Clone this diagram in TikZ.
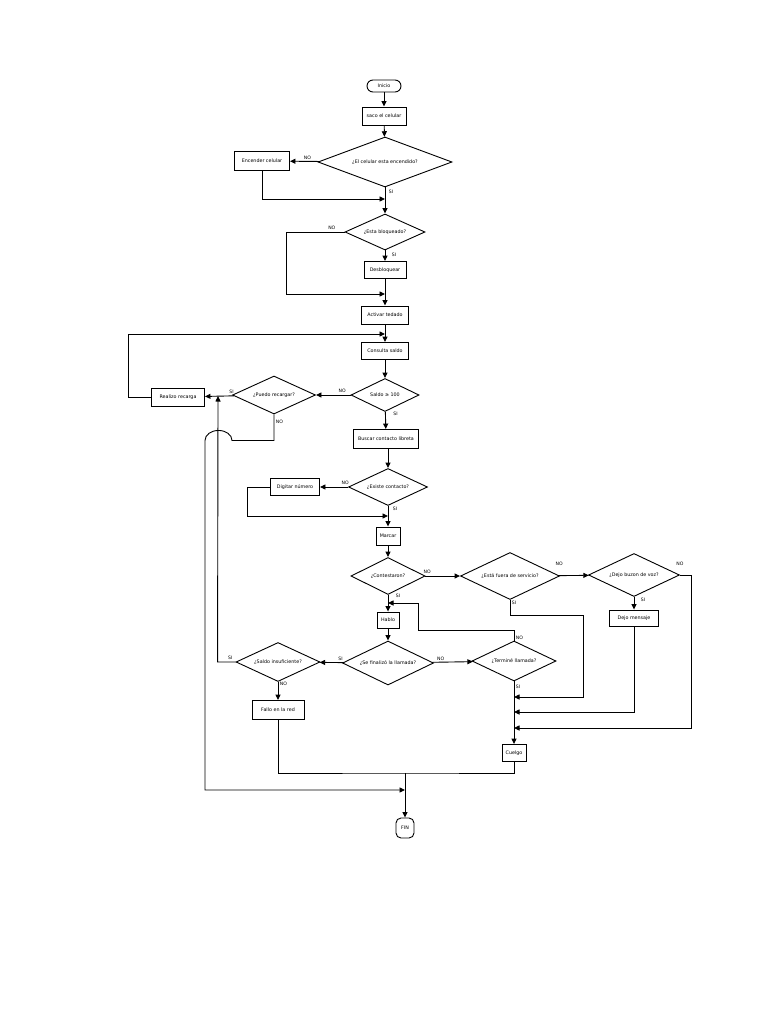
\documentclass[tikz,border=0pt]{standalone}
\usepackage{fontspec}
\setmainfont{DejaVu Sans}
\usetikzlibrary{arrows.meta,shapes.geometric,positioning}

\begin{document}
\begin{tikzpicture}[x=1pt,y=-1pt,line width=0.9pt,font=\fontsize{4.8}{5.5}\selectfont,>={Triangle[length=5.5pt,width=5pt]},
  proc/.style={draw,rectangle,inner sep=0pt,minimum height=18pt},
  term/.style={draw,rounded corners=6pt,inner sep=0pt},
  dec/.style={draw,diamond,inner sep=0pt,aspect=2},
  lbl/.style={font=\fontsize{4.6}{5}\selectfont,inner sep=1.5pt}]
\useasboundingbox (0,0) rectangle (768,1024);
% nodes
\node[term,minimum width=34pt,minimum height=12pt] (ini) at (384,86) {Inicio};
\node[proc,minimum width=44pt] (saco) at (384,116) {saco el celular};
\node[dec,minimum width=134pt,minimum height=50pt] (enc) at (385,162) {¿El celular esta encendido?};
\node[proc,minimum width=55pt,minimum height=19pt] (encc) at (262,161) {Encender celular};
\node[dec,minimum width=80pt,minimum height=36pt] (bloq) at (385,232) {¿Esta bloqueado?};
\node[proc,minimum width=42pt,minimum height=17pt] (desb) at (385,270) {Desbloquear};
\node[proc,minimum width=47pt] (act) at (385,315) {Activar tedado};
\node[proc,minimum width=47pt,minimum height=17pt] (cons) at (385,351) {Consulta saldo};
\node[dec,minimum width=68pt,minimum height=33pt] (sal) at (385,395) {Saldo ≥ 100};
\node[dec,minimum width=83pt,minimum height=38pt] (pued) at (274,395) {¿Puedo recargar?};
\node[proc,minimum width=53pt] (rec) at (178,397) {Realizo recarga};
\node[proc,minimum width=65pt,minimum height=19pt] (busc) at (386,439) {Buscar contacto libreta};
\node[dec,minimum width=79pt,minimum height=37pt] (exis) at (388,487) {¿Existe contacto?};
\node[proc,minimum width=49pt,minimum height=17pt] (dig) at (295,487) {Digitar número};
\node[proc,minimum width=24pt] (marc) at (388,536) {Marcar};
\node[dec,minimum width=74pt,minimum height=37pt] (cont) at (388,576) {¿Contestaron?};
\node[dec,minimum width=99pt,minimum height=47pt] (fuer) at (510,576) {¿Está fuera de servicio?};
\node[dec,minimum width=91pt,minimum height=43pt] (buz) at (634,575) {¿Dejo buzon de voz?};
\node[proc,minimum width=49pt,minimum height=16pt] (men) at (634,618) {Dejo mensaje};
\node[proc,minimum width=22pt,minimum height=16pt] (hab) at (388,620) {Hablo};
\node[dec,minimum width=91pt,minimum height=44pt] (sfin) at (388,663) {¿Se finalizó la llamada?};
\node[dec,minimum width=84pt,minimum height=40pt] (ter) at (514,661) {¿Terminé llamada?};
\node[dec,minimum width=84pt,minimum height=39pt] (insu) at (278,662) {¿Saldo insuficiente?};
\node[proc,minimum width=52pt,minimum height=19pt] (fall) at (278,710) {Fallo en la red};
\node[proc,minimum width=24pt,minimum height=17pt] (cue) at (514,753) {Cuelgo};
\node[term,rounded corners=5pt,minimum width=18pt,minimum height=20pt] (fin) at (405,828) {FIN};
% junctions
\coordinate (m1) at (385,199);\coordinate (m2) at (385,294);\coordinate (m3) at (385,334);
\coordinate (m4) at (388,516);\coordinate (m5) at (514,697);\coordinate (m6) at (514,712);
\coordinate (m7) at (514,728);\coordinate (m8) at (388,603);\coordinate (m9) at (405,790);
\coordinate (m10) at (218,396);\coordinate (f1) at (583,615);\coordinate (t1) at (418,630);
\coordinate (j1) at (405,773);
% connectors
\draw[->] (ini)--(saco);
\draw[->] (saco)--(enc);
\draw[->] (enc)--node[lbl,above,pos=0.4]{NO} (encc);
\draw[->] (encc) |- (m1);
\draw[->] (enc)--node[lbl,right=2pt,pos=0.15]{SI} (bloq);
\draw[->] (bloq.west)--node[lbl,above,pos=0.22]{NO} ++(-58,0) |- (m2);
\draw[->] (bloq)--node[lbl,right=5pt,pos=0.45]{SI} (desb);
\draw[->] (desb)--(act);
\draw[->] (act)--(cons);
\draw[->] (rec.west)--++(-23,0) |- (m3);
\draw[->] (cons)--(sal);
\draw[->] (sal)--node[lbl,above,pos=0.24]{NO} (pued);
\draw[->] (pued)--node[lbl,above,pos=0.08]{SI} (rec);
\draw[->] (pued.south)--node[lbl,right,pos=0.3]{NO} ++(0,26)--++(-42,0)
  arc[start angle=0,end angle=-180,x radius=13.5,y radius=10] |- (m9);
\draw[->] (sal)--node[lbl,right=6pt,pos=0.12]{SI} (busc);
\draw[->] (exis.north |- busc.south)--(exis);
\draw[->] (exis)--node[lbl,above,pos=0.1]{NO} (dig);
\draw[->] (dig.west)--++(-23,0) |- (m4);
\draw[->] (exis)--node[lbl,right=3pt,pos=0.15]{SI} (marc);
\draw[->] (marc)--(cont);
\draw[->] (cont)--node[lbl,above,pos=0.05]{NO} (fuer);
\draw[->] (fuer)--node[lbl,above=8pt,pos=0]{NO} (buz);
\draw[->] (buz.east)--node[lbl,above=7pt,pos=0]{NO} ++(11,0) |- (m7);
\draw[->] (buz)--node[lbl,right=5pt,pos=0.2]{SI} (men);
\draw[->] (men) |- (m6);
\draw[->] (fuer.south) |- node[lbl,right,pos=0.1]{SI} (f1) |- (m5);
\draw[->] (cont)--node[lbl,right=6pt,pos=0.05]{SI} (hab);
\draw[->] (hab)--(sfin);
\draw[->] (sfin)--node[lbl,above,pos=0.1]{SI} (insu);
\draw[->] (sfin)--node[lbl,above,pos=0.2]{NO} (ter);
\draw[->] (ter.north) |- node[lbl,right,pos=0.15]{NO} (t1) |- (m8);
\draw[->] (ter)--node[lbl,right,pos=0.08]{SI} (cue);
\draw[->] (insu.west)--node[lbl,above,pos=0.3]{SI} ++(-18,0)--(m10);
\draw[->] (insu)--node[lbl,right,pos=0.1]{NO} (fall);
\draw (fall.south) |- (j1) -| (cue.south);
\draw[->] (j1)--(fin);
\end{tikzpicture}
\end{document}
